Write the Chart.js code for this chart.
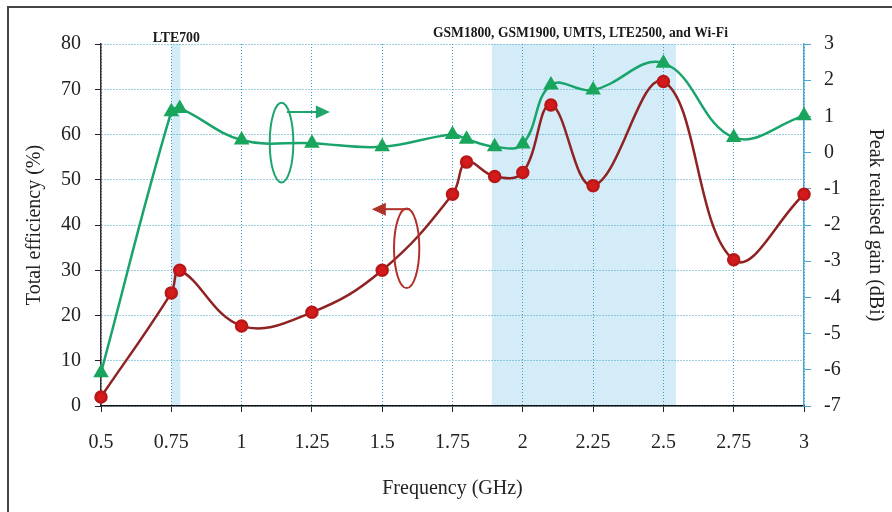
<!DOCTYPE html>
<html>
<head>
<meta charset="utf-8">
<script src="https://cdn.jsdelivr.net/npm/chart.js@4.4.0/dist/chart.umd.min.js"></script>
<style>
  body { margin: 0; background: #fff; }
  canvas { display: block; }
</style>
</head>
<body>
<canvas id="effChart" width="892" height="512"></canvas>
<script>
// Frequency points (GHz)
const freqs = [0.5, 0.75, 0.78, 1, 1.25, 1.5, 1.75, 1.8, 1.9, 2, 2.1, 2.25, 2.5, 2.75, 3];
// Total efficiency (%)
const efficiency = [2, 25, 30, 17.7, 20.7, 30, 46.8, 53.9, 50.7, 51.6, 66.5, 48.7, 71.7, 32.3, 46.8];
// Peak realised gain (dBi)
const gain = [-6.08, 1.13, 1.22, 0.35, 0.26, 0.16, 0.5, 0.37, 0.16, 0.24, 1.87, 1.73, 2.47, 0.42, 1.02];

const freqTicks = [0.5, 0.75, 1, 1.25, 1.5, 1.75, 2, 2.25, 2.5, 2.75, 3];
const effTicks = [0, 10, 20, 30, 40, 50, 60, 70, 80];
const gainTicks = [-7, -6, -5, -4, -3, -2, -1, 0, 1, 2, 3];

// shaded bands [from, to] in GHz with their labels
const bands = [
    { from: 0.75, to: 0.782, label: 'LTE700' },
    { from: 1.89, to: 2.545, label: 'GSM1800, GSM1900, UMTS, LTE2500, and Wi-Fi' }
];

const serif = '"Liberation Serif", "DejaVu Serif", serif';

const bandsPlugin = {
    id: 'bands',
    beforeDraw(chart) {
        const ctx = chart.ctx;
        const x = chart.scales.x;
        const area = chart.chartArea;
        ctx.save();
        ctx.fillStyle = '#d3ecf8';
        bands.forEach(b => {
            const x1 = x.getPixelForValue(b.from);
            const x2 = x.getPixelForValue(b.to);
            ctx.fillRect(x1, area.top, x2 - x1, area.bottom - area.top);
        });
        ctx.restore();
    },
    afterDraw(chart) {
        const ctx = chart.ctx;
        const x = chart.scales.x;
        const y = chart.scales.y;
        ctx.save();

        // outer frame (top and left edge only)
        ctx.strokeStyle = '#444';
        ctx.lineWidth = 2;
        ctx.beginPath();
        ctx.moveTo(8, 512);
        ctx.lineTo(8, 7);
        ctx.lineTo(892, 7);
        ctx.stroke();

        // band labels
        ctx.fillStyle = '#1a1a1a';
        ctx.font = 'bold 15px ' + serif;
        ctx.textAlign = 'center';
        ctx.textBaseline = 'alphabetic';
        ctx.fillText(bands[0].label, x.getPixelForValue(0.768), 42, 47);
        ctx.fillText(bands[1].label, x.getPixelForValue(2.205), 37, 295);

        // series markers: ellipse + arrow pointing to the axis used
        function marker(cx, cy, rx, ry, ax1, ax2, ay, color) {
            const px = x.getPixelForValue(cx), py = y.getPixelForValue(cy);
            const rpx = Math.abs(x.getPixelForValue(cx + rx) - px);
            const rpy = Math.abs(y.getPixelForValue(cy + ry) - py);
            ctx.strokeStyle = color;
            ctx.fillStyle = color;
            ctx.lineWidth = 2;
            ctx.beginPath();
            ctx.ellipse(px, py, rpx, rpy, 0, 0, Math.PI * 2);
            ctx.stroke();
            const sx = x.getPixelForValue(ax1), tx = x.getPixelForValue(ax2), yy = y.getPixelForValue(ay);
            const dir = Math.sign(tx - sx);
            ctx.beginPath();
            ctx.moveTo(sx, yy);
            ctx.lineTo(tx - dir * 10, yy);
            ctx.stroke();
            ctx.beginPath();
            ctx.moveTo(tx, yy);
            ctx.lineTo(tx - dir * 14, yy - 6.5);
            ctx.lineTo(tx - dir * 14, yy + 6.5);
            ctx.closePath();
            ctx.fill();
        }
        marker(1.142, 58.2, 0.042, 8.8, 1.161, 1.314, 65.0, '#1ea46c');
        marker(1.587, 34.85, 0.045, 8.8, 1.599, 1.463, 43.5, '#b0302a');

        ctx.restore();
    }
};

const gridStyle = {
    color: '#3a9cc4',
    lineWidth: 1,
    tickLength: 6,
    tickColor: '#222'
};

const config = {
    type: 'line',
    data: {
        datasets: [
            {
                label: 'Peak realised gain',
                data: freqs.map((f, i) => ({ x: f, y: gain[i] })),
                yAxisID: 'y2',
                borderColor: '#19a46c',
                borderWidth: 2.5,
                pointStyle: 'triangle',
                pointRadius: 6.5,
                pointBackgroundColor: '#1aa55c',
                pointBorderColor: '#1aa55c',
                tension: 0.4,
                clip: false
            },
            {
                label: 'Total efficiency',
                data: freqs.map((f, i) => ({ x: f, y: efficiency[i] })),
                yAxisID: 'y',
                borderColor: '#8f2323',
                borderWidth: 2.5,
                pointRadius: 5.5,
                pointBackgroundColor: '#d51a1b',
                pointBorderColor: '#b81818',
                tension: 0.4,
                clip: false
            }
        ]
    },
    options: {
        responsive: false,
        animation: false,
        layout: { padding: { top: 44, left: 0, right: 0, bottom: 0 } },
        plugins: {
            legend: { display: false },
            tooltip: { enabled: false }
        },
        scales: {
            x: {
                type: 'linear',
                min: 0.5,
                max: 3,
                afterBuildTicks: s => { s.ticks = freqTicks.map(v => ({ value: v })); },
                afterFit: s => { s.height = 106; },
                grid: gridStyle,
                border: { color: '#111', width: 1.5, dash: [1, 2] },
                ticks: {
                    color: '#222',
                    padding: 19,
                    maxRotation: 0,
                    autoSkip: false,
                    font: { family: serif, size: 20 },
                    callback: v => String(v)
                },
                title: {
                    display: true,
                    text: 'Frequency (GHz)',
                    color: '#222',
                    font: { family: serif, size: 20 },
                    padding: { top: 0, bottom: 11 }
                }
            },
            y: {
                position: 'left',
                min: 0,
                max: 80,
                afterBuildTicks: s => { s.ticks = effTicks.map(v => ({ value: v })); },
                afterFit: s => { s.width = 101; },
                grid: gridStyle,
                border: { color: '#3a2a2a', width: 1.5, dash: [1, 2] },
                ticks: {
                    color: '#222',
                    padding: 14,
                    font: { family: serif, size: 20 }
                },
                title: {
                    display: true,
                    text: 'Total efficiency (%)',
                    color: '#222',
                    font: { family: serif, size: 20 },
                    padding: { top: 23, bottom: 0 }
                }
            },
            y2: {
                position: 'right',
                min: -7,
                max: 3,
                afterBuildTicks: s => { s.ticks = gainTicks.map(v => ({ value: v })); },
                afterFit: s => { s.width = 88; },
                grid: { drawOnChartArea: false, tickLength: 7, tickColor: '#4aa6d6' },
                border: { color: '#4aa6d6', width: 1.5 },
                ticks: {
                    color: '#222',
                    padding: 13,
                    font: { family: serif, size: 20 }
                },
                title: {
                    display: true,
                    text: 'Peak realised gain (dBi)',
                    color: '#222',
                    font: { family: serif, size: 20 },
                    padding: { top: 5, bottom: 0 }
                }
            }
        }
    },
    plugins: [bandsPlugin]
};

new Chart(document.getElementById('effChart').getContext('2d'), config);
</script>
</body>
</html>
